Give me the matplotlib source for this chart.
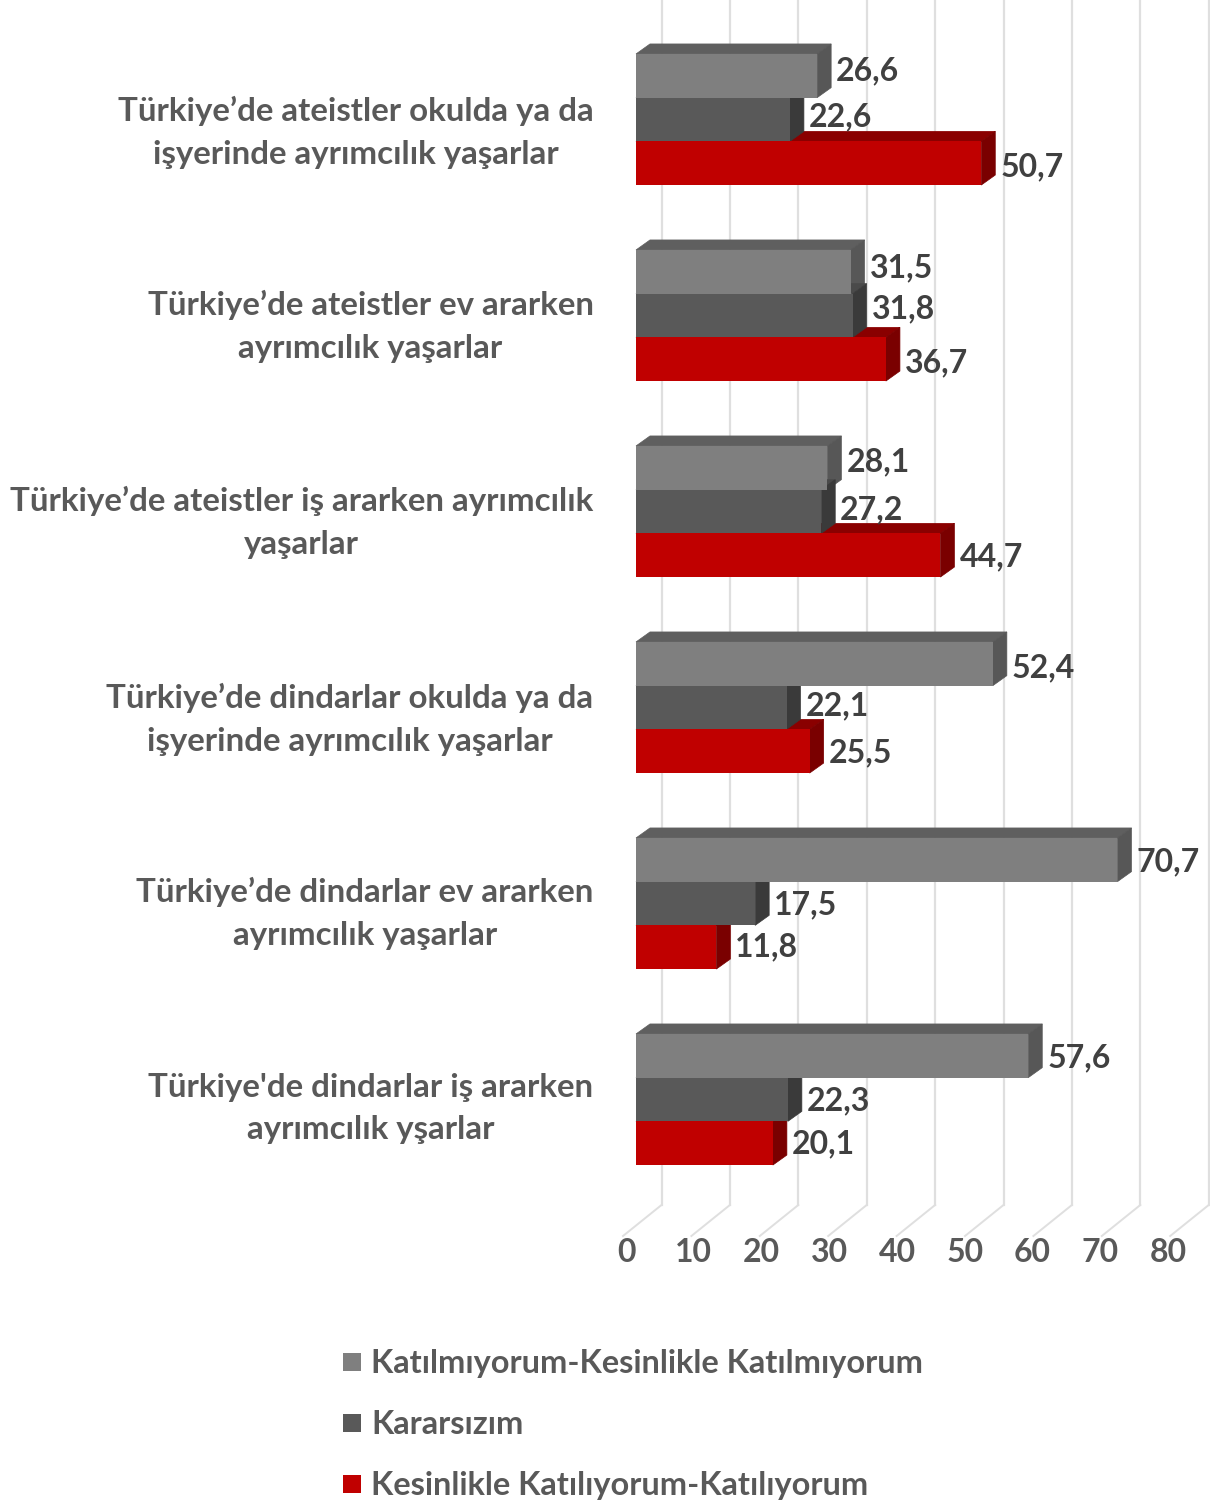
import matplotlib
matplotlib.use("Agg")
import matplotlib.pyplot as plt
from matplotlib.lines import Line2D
from matplotlib.patches import Polygon

plt.rcParams['font.family'] = ['Lato', 'DejaVu Sans']

categories = [
    "Türkiye’de ateistler okulda ya da\nişyerinde ayrımcılık yaşarlar",
    "Türkiye’de ateistler ev ararken\nayrımcılık yaşarlar",
    "Türkiye’de ateistler iş ararken ayrımcılık\nyaşarlar",
    "Türkiye’de dindarlar okulda ya da\nişyerinde ayrımcılık yaşarlar",
    "Türkiye’de dindarlar ev ararken\nayrımcılık yaşarlar",
    "Türkiye'de dindarlar iş ararken\nayrımcılık yşarlar",
]
katilmiyorum = [26.6, 31.5, 28.1, 52.4, 70.7, 57.6]
kararsizim = [22.6, 31.8, 27.2, 22.1, 17.5, 22.3]
katiliyorum = [50.7, 36.7, 44.7, 25.5, 11.8, 20.1]
series_names = ["Katılmıyorum-Kesinlikle Katılmıyorum", "Kararsızım", "Kesinlikle Katılıyorum-Katılıyorum"]
x_ticks = [0, 10, 20, 30, 40, 50, 60, 70, 80]

# picture size and scale, in pixels
W, H = 1210, 1506
X0 = 636          # where value 0 sits on the front plane
PX_VAL = 6.81     # pixels for one unit of value
Y0 = 119.5        # centre of the first group
PITCH = 196.0     # distance between two groups
BAR_H = 43.7 / PITCH
DX = 14 / PX_VAL  # depth of the fake 3d bars
DY = 10 / PITCH
GRID_K = 6.84 / PX_VAL   # the wall is spaced a little wider than the bars
TICK_K = 6.775 / PX_VAL  # the tick labels a little tighter

# small vertical shifts of the value labels, as in the reference (pixels)
nudge_top = [-5, -4, -6, 4, 2, 2]
nudge_mid = [-3, -7, -2, -2, 1, 1]
nudge_low = [4, 4, 2, 2, 0, 1]
# same for the question labels
nudge_cat = [13, 11, 11, 12, 10, 9]

front = ['#7f7f7f', '#595959', '#c00000']
top_col = ['#5f5f5f', '#4a4a4a', '#8a0000']
side_col = ['#575757', '#3a3a3a', '#7a0000']
text_col = '#595959'
val_col = '#404040'
grid_col = '#dfdfdf'

fig = plt.figure(figsize=(W / 100, H / 100), dpi=100)
ax = fig.add_axes([0, 0, 1, 1])
ax.set_xlim(-X0 / PX_VAL, (W - X0) / PX_VAL)
ax.set_ylim((H - Y0) / PITCH, -Y0 / PITCH)
ax.set_axis_off()

# back wall and floor lines
floor_back = (1205 - Y0) / PITCH
floor_front = (1236 - Y0) / PITCH
wall = 25.5 / PX_VAL
near = -13 / PX_VAL
for t in x_ticks:
    ax.plot([t * GRID_K + wall, t * GRID_K + wall], [-Y0 / PITCH, floor_back], color=grid_col, lw=1.6, zorder=1)
    ax.plot([t * GRID_K + wall, t * GRID_K + near], [floor_back, floor_front], color=grid_col, lw=1.4, zorder=1)
    ax.text(t * TICK_K - 10 / PX_VAL, (1253 - Y0) / PITCH, str(t), color=text_col, fontsize=23,
            fontweight='bold', ha='center', va='center')

rows = [katilmiyorum, kararsizim, katiliyorum]
shifts = [-BAR_H, 0, BAR_H]
nudges = [nudge_top, nudge_mid, nudge_low]

# tops and sides first (red, grey, then dark so it sits on the grey side)
for s in [2, 0, 1]:
    for i, v in enumerate(rows[s]):
        y_top = i + shifts[s] - BAR_H / 2
        y_bot = i + shifts[s] + BAR_H / 2
        ax.add_patch(Polygon([(0, y_top), (DX, y_top - DY), (v + DX, y_top - DY), (v, y_top)],
                             facecolor=top_col[s], edgecolor=top_col[s], lw=0.5, zorder=2))
        ax.add_patch(Polygon([(v, y_top), (v + DX, y_top - DY), (v + DX, y_bot - DY), (v, y_bot)],
                             facecolor=side_col[s], edgecolor=side_col[s], lw=0.5, zorder=2))

# front faces and value labels
for s in range(3):
    pos = [i + shifts[s] for i in range(len(categories))]
    ax.barh(pos, rows[s], height=BAR_H, color=front[s], linewidth=0, zorder=3)
    for i, v in enumerate(rows[s]):
        ax.text(v + 19 / PX_VAL, pos[i] + nudges[s][i] / PITCH, str(v).replace('.', ','), color=val_col,
                fontsize=23, fontweight='bold', ha='left', va='center', zorder=4)

# question labels
for i, c in enumerate(categories):
    ax.text((593.5 - X0) / PX_VAL, i + nudge_cat[i] / PITCH, c, color=text_col, fontsize=23.8, fontweight='bold',
            ha='right', va='center', multialignment='center', linespacing=1.58)

handles = [Line2D([], [], linestyle='none', marker='s', markersize=13, color=c, markeredgewidth=0) for c in front]
ax.legend(handles, series_names, loc='upper left', bbox_to_anchor=(336 / W, 1 - 1349 / H),
          bbox_transform=fig.transFigure, frameon=False, labelcolor=text_col,
          prop={'size': 23.4, 'weight': 'bold'}, borderpad=0, borderaxespad=0, labelspacing=0.99,
          handlelength=1.0, handletextpad=0.08)

fig.savefig('out.png', dpi=100)
